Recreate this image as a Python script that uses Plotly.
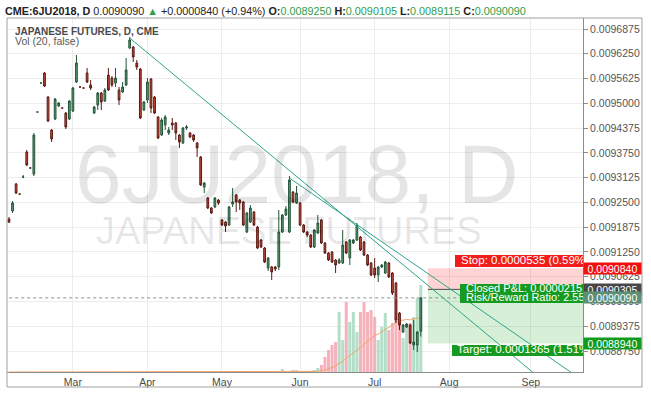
import pandas as pd
import plotly.graph_objects as go

# ---------------- data ----------------
holidays = ["2018-02-19", "2018-03-30", "2018-05-28", "2018-07-04", "2018-09-03"]
sessions = [d for d in pd.bdate_range("2018-02-02", "2018-09-28")
            if d.strftime("%Y-%m-%d") not in holidays]
session_labels = [d.strftime("%Y-%m-%d") for d in sessions]

opens = [
    0.0092080, 0.0092282, 0.0092964, 0.0092711, 0.0093140, 0.0093771, 0.0093368, 0.0093216, 0.0094781, 0.0095512,
    0.0095765, 0.0095159, 0.0094326, 0.0094604, 0.0094932, 0.0094882, 0.0094755, 0.0094604, 0.0094806, 0.0095538,
    0.0095412, 0.0095386, 0.0095765, 0.0095462, 0.0094755, 0.0094957, 0.0095260, 0.0095058, 0.0095714, 0.0095639,
    0.0095512, 0.0095336, 0.0095285, 0.0095462, 0.0096396, 0.0096421, 0.0096017, 0.0095866, 0.0094831, 0.0095084,
    0.0095613, 0.0095159, 0.0094655, 0.0094200, 0.0094453, 0.0094251, 0.0094503, 0.0094503, 0.0094200, 0.0093998,
    0.0094377, 0.0094251, 0.0094200, 0.0093998, 0.0093645, 0.0092888, 0.0092611, 0.0092358, 0.0092383, 0.0092560,
    0.0092055, 0.0092005, 0.0091929, 0.0092459, 0.0092686, 0.0092560, 0.0092510, 0.0091752, 0.0092005, 0.0092257,
    0.0091879, 0.0091551, 0.0091349, 0.0090844, 0.0090869, 0.0090869, 0.0090869, 0.0091752, 0.0092181, 0.0091752,
    0.0092762, 0.0092484, 0.0092484, 0.0091929, 0.0091752, 0.0091677, 0.0091374, 0.0091727, 0.0092055, 0.0091475,
    0.0091223, 0.0091248, 0.0091046, 0.0090970, 0.0090970, 0.0091500, 0.0091096, 0.0091475, 0.0091551, 0.0091626,
    0.0091500, 0.0091172, 0.0090970, 0.0090844, 0.0090667, 0.0090869, 0.0090718, 0.0090970, 0.0090718, 0.0090466,
    0.0089708, 0.0089229, 0.0089355, 0.0089406, 0.0088901, 0.0088901, 0.0089250]
highs = [
    0.0092131, 0.0092535, 0.0092989, 0.0092711, 0.0093191, 0.0093822, 0.0093368, 0.0094251, 0.0094781, 0.0095512,
    0.0095790, 0.0095184, 0.0094352, 0.0095134, 0.0095033, 0.0094882, 0.0094781, 0.0095084, 0.0095412, 0.0096219,
    0.0095412, 0.0095386, 0.0095891, 0.0095588, 0.0094932, 0.0095285, 0.0095285, 0.0095386, 0.0095891, 0.0095689,
    0.0095891, 0.0095412, 0.0095538, 0.0096143, 0.0096673, 0.0096446, 0.0096093, 0.0095891, 0.0095058, 0.0095639,
    0.0095639, 0.0095184, 0.0094680, 0.0094629, 0.0094705, 0.0094402, 0.0094629, 0.0094528, 0.0094226, 0.0094402,
    0.0094453, 0.0094276, 0.0094226, 0.0094024, 0.0093670, 0.0093014, 0.0092636, 0.0092383, 0.0092636, 0.0092585,
    0.0092080, 0.0092030, 0.0092409, 0.0092863, 0.0092711, 0.0092585, 0.0092535, 0.0092257, 0.0092434, 0.0092282,
    0.0091904, 0.0091576, 0.0091374, 0.0091121, 0.0090894, 0.0090894, 0.0092308, 0.0092207, 0.0092409, 0.0093166,
    0.0092787, 0.0092913, 0.0092510, 0.0091954, 0.0091778, 0.0091702, 0.0091828, 0.0092181, 0.0092080, 0.0091500,
    0.0091248, 0.0091273, 0.0091071, 0.0091096, 0.0091803, 0.0091525, 0.0091576, 0.0091576, 0.0091980, 0.0091651,
    0.0091525, 0.0091197, 0.0090995, 0.0091096, 0.0090894, 0.0090945, 0.0091021, 0.0090995, 0.0090743, 0.0090491,
    0.0089733, 0.0089431, 0.0089456, 0.0089431, 0.0089532, 0.0089254, 0.0090105]
lows = [
    0.0091980, 0.0092232, 0.0092711, 0.0092711, 0.0093115, 0.0093418, 0.0093368, 0.0093166, 0.0094781, 0.0095512,
    0.0095412, 0.0094528, 0.0094024, 0.0094579, 0.0094907, 0.0094882, 0.0094352, 0.0094579, 0.0094781, 0.0095512,
    0.0095412, 0.0095386, 0.0095512, 0.0095336, 0.0094730, 0.0094831, 0.0094831, 0.0095033, 0.0095311, 0.0095412,
    0.0095412, 0.0094957, 0.0095260, 0.0095437, 0.0096371, 0.0096042, 0.0095841, 0.0094604, 0.0094806, 0.0095008,
    0.0094755, 0.0094730, 0.0094099, 0.0094175, 0.0094326, 0.0094200, 0.0094326, 0.0094074, 0.0093872, 0.0093973,
    0.0094326, 0.0094125, 0.0094024, 0.0093645, 0.0092913, 0.0092737, 0.0092333, 0.0092207, 0.0092358, 0.0092434,
    0.0091904, 0.0091752, 0.0091904, 0.0092383, 0.0092257, 0.0092308, 0.0091904, 0.0091727, 0.0091980, 0.0091904,
    0.0091323, 0.0091349, 0.0090970, 0.0090768, 0.0090541, 0.0090768, 0.0090794, 0.0091727, 0.0092156, 0.0091727,
    0.0092484, 0.0092459, 0.0091904, 0.0091727, 0.0091626, 0.0091349, 0.0091349, 0.0091702, 0.0091450, 0.0091197,
    0.0091021, 0.0090970, 0.0090718, 0.0090945, 0.0090945, 0.0091197, 0.0090920, 0.0091450, 0.0091525, 0.0091273,
    0.0091147, 0.0090894, 0.0090642, 0.0090592, 0.0090491, 0.0090844, 0.0090693, 0.0090592, 0.0090163, 0.0089456,
    0.0089279, 0.0089204, 0.0089330, 0.0088926, 0.0088775, 0.0088724, 0.0089115]
closes = [
    0.0092005, 0.0092484, 0.0092737, 0.0092711, 0.0093140, 0.0093443, 0.0093368, 0.0094200, 0.0094781, 0.0095512,
    0.0095437, 0.0094554, 0.0094099, 0.0095109, 0.0095008, 0.0094882, 0.0094402, 0.0095058, 0.0095386, 0.0096017,
    0.0095412, 0.0095386, 0.0095538, 0.0095386, 0.0094907, 0.0095260, 0.0095033, 0.0095336, 0.0095336, 0.0095462,
    0.0095639, 0.0095084, 0.0095412, 0.0095841, 0.0096598, 0.0096169, 0.0095916, 0.0094629, 0.0095033, 0.0095538,
    0.0094882, 0.0094755, 0.0094125, 0.0094579, 0.0094655, 0.0094326, 0.0094453, 0.0094251, 0.0094024, 0.0094377,
    0.0094402, 0.0094150, 0.0094074, 0.0093872, 0.0092939, 0.0092989, 0.0092358, 0.0092232, 0.0092611, 0.0092484,
    0.0091929, 0.0091904, 0.0092383, 0.0092510, 0.0092510, 0.0092484, 0.0091929, 0.0092232, 0.0092358, 0.0091929,
    0.0091349, 0.0091374, 0.0090995, 0.0091096, 0.0090743, 0.0090819, 0.0091752, 0.0092181, 0.0092333, 0.0093065,
    0.0092510, 0.0092737, 0.0091929, 0.0091752, 0.0091677, 0.0091374, 0.0091803, 0.0091980, 0.0091475, 0.0091223,
    0.0091046, 0.0090995, 0.0090920, 0.0091046, 0.0091424, 0.0091223, 0.0091551, 0.0091551, 0.0091929, 0.0091298,
    0.0091172, 0.0090920, 0.0090667, 0.0090667, 0.0090869, 0.0090920, 0.0090995, 0.0090617, 0.0090213, 0.0089532,
    0.0089406, 0.0089406, 0.0089431, 0.0088951, 0.0088977, 0.0089229, 0.0090090]
volumes = [
    0, 0, 0, 0, 0, 0, 0, 0, 0, 0, 0, 0, 0, 0, 0, 0, 0, 0, 0, 0,
    0, 0, 0, 0, 0, 0, 0, 0, 0, 0, 0, 0, 0, 0, 0, 0, 0, 0, 0, 0,
    0, 0, 0, 0, 0, 0, 0, 0, 0, 0, 0, 0, 0, 0, 0, 0, 0, 0, 0, 0,
    0, 0, 0, 0, 0, 0, 0, 0, 0, 0, 0, 0, 0, 0, 0, 0, 0,
    3000, 0, 0, 2000, 2000, 1000, 1000, 1000, 1000, 2000,
    4000, 7000, 15000, 22000, 27000, 30000, 60000, 32000, 70000, 50000,
    60000, 40000, 60000, 70000, 60000, 62000, 55000, 32000, 45000, 59000,
    42000, 49000, 72000, 55000, 34000, 45000, 49000, 55000, 74000, 87000]

month_names = ["Mar", "Apr", "May", "Jun", "Jul", "Aug", "Sep"]
price_ticks_start, price_tick_step = 0.0088750, 0.0000625

# position tool (short): entry / stop / target, current price
entry_date = "2018-07-24"
entry_price, stop_price, target_price, last_price = 0.0090305, 0.0090840, 0.0088940, 0.0090090

# trend lines (anchor dates, prices)
trend_a_dates, trend_a_prices = ["2018-03-23", "2018-09-28"], [0.0096648, 0.0086916]
trend_b_dates, trend_b_prices = ["2018-05-29", "2018-09-28"], [0.0093115, 0.0087799]

# ---------------- geometry ----------------
W, H = 651, 397
L, R, T, B = 7, 583, 18, 372
x_min, x_max = -0.56, 161.69
y_min, y_max = 0.0088220, 0.0097153
vol_max = 354000
FONT = "Liberation Sans, Arial, sans-serif"

def px_x(px):
    return x_min + (px - L) / (R - L) * (x_max - x_min)

def px_y(py):
    return y_max - (py - T) / (B - T) * (y_max - y_min)

def idx(d):
    return session_labels.index(d)

n = len(opens)
xs = list(range(n))
up = [c >= o for o, c in zip(opens, closes)]
vol_colors = ["#b3dec8" if u else "#f5b2bb" for u in up]
vol_ma = pd.Series(volumes).rolling(20, min_periods=1).mean().tolist()

month_ticks = []
for m in range(3, 10):
    month_ticks.append(next(i for i, d in enumerate(sessions) if d.month == m))

fig = go.Figure()

fig.add_trace(go.Bar(x=xs, y=volumes, marker=dict(color=vol_colors, line=dict(width=0)),
                     xaxis="x", yaxis="y", hoverinfo="skip", showlegend=False))
fig.add_trace(go.Scatter(x=xs, y=vol_ma, mode="lines", line=dict(color="#f2a36b", width=1),
                         xaxis="x", yaxis="y", hoverinfo="skip", showlegend=False))

fig.add_trace(go.Candlestick(
    x=xs, open=opens, high=highs, low=lows, close=closes, xaxis="x", yaxis="y2",
    increasing=dict(fillcolor="#5e9c79", line=dict(color="#225437", width=1)),
    decreasing=dict(fillcolor="#c84a3a", line=dict(color="#5b1a13", width=1)),
    whiskerwidth=0, hoverinfo="skip", showlegend=False))

far = 175
e0 = idx(entry_date)

def rect(x0, x1, y0, y1, color):
    fig.add_trace(go.Scatter(x=[x0, x1, x1, x0, x0], y=[y0, y0, y1, y1, y0], mode="lines",
                             fill="toself", fillcolor=color, line=dict(width=0),
                             xaxis="x", yaxis="y2", hoverinfo="skip", showlegend=False))

def hline(x0, x1, y, color, dash="solid"):
    fig.add_trace(go.Scatter(x=[x0, x1], y=[y, y], mode="lines",
                             line=dict(color=color, width=1, dash=dash),
                             xaxis="x", yaxis="y2", hoverinfo="skip", showlegend=False))

# position zones
rect(e0, far, entry_price, stop_price, "rgba(255,40,40,0.20)")
rect(e0, far, target_price, entry_price, "rgba(20,160,20,0.17)")
hline(e0, far, entry_price, "#4d4d4d")
hline(-5, far, last_price, "#7f978a", "dot")

# trend lines
for dts, prs in [(trend_a_dates, trend_a_prices), (trend_b_dates, trend_b_prices)]:
    fig.add_trace(go.Scatter(x=[idx(d) for d in dts], y=prs, mode="lines",
                             line=dict(color="#2ea58b", width=1), xaxis="x", yaxis="y2",
                             hoverinfo="skip", showlegend=False))

# labels of the position tool
RED, GREEN = "#f11d1d", "#159b22"
rect(px_x(455), far, px_y(267), px_y(255), RED)
rect(px_x(460), far, px_y(303), px_y(284), GREEN)
rect(px_x(452), far, px_y(356), px_y(345), GREEN)
label_texts = ["Stop: 0.0000535 (0.59%)", "Closed P&L: 0.0000215 (0.24%)",
               "Risk/Reward Ratio: 2.55", "Target: 0.0001365 (1.51%)"]
label_x = [px_x(461), px_x(466), px_x(466), px_x(457)]
label_y = [px_y(261.5), px_y(289.5), px_y(298), px_y(350.5)]
label_size = [11.5, 11, 11, 11.5]
fig.add_trace(go.Scatter(x=label_x, y=label_y, mode="text", text=label_texts,
                         textposition="middle right", cliponaxis=True,
                         textfont=dict(family=FONT, size=label_size, color="white"),
                         xaxis="x", yaxis="y2", hoverinfo="skip", showlegend=False))

annotations = []
# watermark
annotations.append(dict(xref="paper", yref="paper", x=(297 - L) / (R - L), y=(B - 174) / (B - T),
                        text="6JU2018, D", showarrow=False, xanchor="center", yanchor="middle",
                        font=dict(family=FONT, size=84, color="rgba(0,0,0,0.10)")))
annotations.append(dict(xref="paper", yref="paper", x=(289 - L) / (R - L), y=(B - 231) / (B - T),
                        text="JAPANESE FUTURES", showarrow=False, xanchor="center", yanchor="middle",
                        font=dict(family=FONT, size=38, color="rgba(0,0,0,0.10)")))
# header
G = "#2e9e48"
header = ("<b>CME:6JU2018, D</b> 0.0090090 <span style='color:%s'>▲</span> +0.0000840 (+0.94%%) "
          "<b>O:</b><span style='color:%s'>0.0089250</span> <b>H:</b><span style='color:%s'>0.0090105</span> "
          "<b>L:</b><span style='color:%s'>0.0089115</span> <b>C:</b><span style='color:%s'>0.0090090</span>"
          % (G, G, G, G, G))
annotations.append(dict(xref="paper", yref="paper", x=(3 - L) / (R - L), y=(B - 11) / (B - T),
                        text=header, showarrow=False, xanchor="left", yanchor="middle",
                        font=dict(family=FONT, size=10.8, color="#222")))
annotations.append(dict(xref="paper", yref="paper", x=(13 - L) / (R - L), y=(B - 31) / (B - T),
                        text="<b>JAPANESE FUTURES, D, CME</b>", showarrow=False, xanchor="left",
                        yanchor="middle", font=dict(family=FONT, size=10, color="#4a4a4a")))
annotations.append(dict(xref="paper", yref="paper", x=(13 - L) / (R - L), y=(B - 41) / (B - T),
                        text="Vol (20, false)", showarrow=False, xanchor="left",
                        yanchor="middle", font=dict(family=FONT, size=10.5, color="#5a5a5a")))
# price-axis labels
for price, col in [(stop_price, "#f20f0f"), (entry_price, "#474747"),
                   (last_price, "#5f8e76"), (target_price, "#129a1e")]:
    annotations.append(dict(xref="paper", yref="y2", x=1, y=price, text="%.7f" % price,
                            showarrow=False, xanchor="left", yanchor="middle", width=57, height=11,
                            bgcolor=col, borderpad=0, align="center",
                            font=dict(family=FONT, size=10.5, color="white")))

shapes = [dict(type="rect", xref="paper", yref="paper", x0=0, x1=(642 - L) / (R - L),
               y0=-(387 - B) / (B - T), y1=1, line=dict(color="#a0a0a0", width=1), layer="above")]

fig.update_layout(
    width=W, height=H, margin=dict(l=L, r=W - R, t=T, b=H - B),
    paper_bgcolor="white", plot_bgcolor="white", showlegend=False,
    bargap=0.15, annotations=annotations, shapes=shapes,
    xaxis=dict(range=[x_min, x_max], tickmode="array", tickvals=month_ticks, ticktext=month_names,
               showgrid=True, gridcolor="#ececec", zeroline=False, showline=True, linecolor="#8c8c8c",
               ticks="", tickfont=dict(family=FONT, size=10.5, color="#4a4a4a"),
               rangeslider=dict(visible=False), fixedrange=True),
    yaxis=dict(range=[0, vol_max], visible=False, fixedrange=True),
    yaxis2=dict(overlaying="y", side="right", range=[y_min, y_max], tick0=price_ticks_start,
                dtick=price_tick_step, tickformat=".7f", showgrid=True, gridcolor="#ececec",
                zeroline=False, showline=True, linecolor="#8c8c8c", ticks="outside", ticklen=4,
                tickcolor="#8c8c8c", tickfont=dict(family=FONT, size=10.5, color="#555"),
                fixedrange=True),
)

fig.write_html("out.html", config={"displayModeBar": False},
               post_script="document.body.style.margin='0px';")
